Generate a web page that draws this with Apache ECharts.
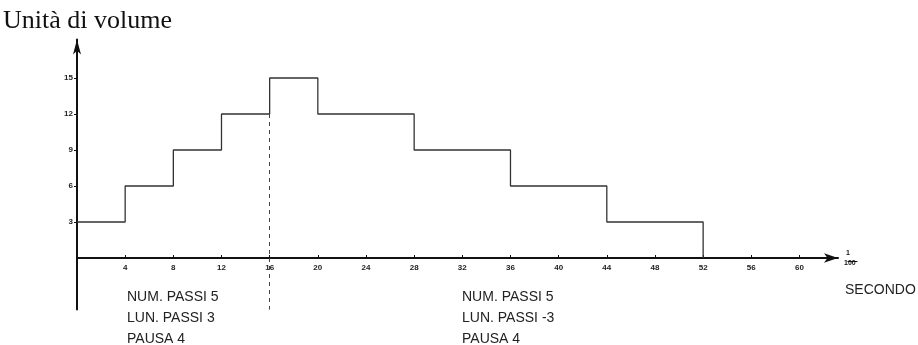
<!DOCTYPE html>
<html>
<head>
<meta charset="utf-8">
<script src="https://cdn.jsdelivr.net/npm/echarts@6/dist/echarts.min.js"></script>
<style>
html, body { margin: 0; padding: 0; background: #fff; }
#chart { width: 918px; height: 345px; }
</style>
</head>
<body>
<div id="chart"></div>
<script>
// step profile: time (1/100 s) -> volume units
var stepTimes = [0, 4, 8, 12, 16, 20, 28, 36, 44, 52];
var stepVolumes = [3, 6, 9, 12, 15, 12, 9, 6, 3, 0];

var xTicks = [4, 8, 12, 16, 20, 24, 28, 32, 36, 40, 44, 48, 52, 56, 60];
var yTicks = [3, 6, 9, 12, 15];

// dashed divider between rising and falling phase
var dividerX = 16;
var dividerY = [12, -4.3];

var yTitle = 'Unità di volume';
var xUnit = ['1', '100'];
var xTitle = 'SECONDO';
var noteUp = ['NUM. PASSI 5', 'LUN. PASSI 3', 'PAUSA 4'];
var noteDown = ['NUM. PASSI 5', 'LUN. PASSI -3', 'PAUSA 4'];

var stepData = stepTimes.map(function (t, i) { return [t, stepVolumes[i]]; });

var chart = echarts.init(document.getElementById('chart'));

var labelFont = {
    fontFamily: 'Liberation Sans',
    fontSize: 8,
    fontWeight: 'bold',
    color: '#222'
};

var yMin = -4.3;
var yUnit = 12; // px per volume unit

option = {
    backgroundColor: '#fff',
    animation: false,
    grid: {
        left: 77,
        top: 39.6,
        width: 761,
        height: (18.2 - yMin) * yUnit
    },
    xAxis: {
        type: 'value',
        min: 0,
        max: 63.2,
        position: 'bottom',
        offset: yMin * yUnit,
        splitLine: { show: false },
        axisLine: {
            onZero: false,
            symbol: ['none', 'arrow'],
            symbolSize: [7, 14],
            lineStyle: { color: '#111', width: 2 }
        },
        axisTick: {
            customValues: xTicks,
            length: 3,
            inside: true,
            lineStyle: { color: '#111', width: 1 }
        },
        axisLabel: Object.assign({
            customValues: xTicks,
            margin: 6
        }, labelFont)
    },
    yAxis: {
        type: 'value',
        min: yMin,
        max: 18.2,
        splitLine: { show: false },
        axisLine: {
            onZero: false,
            symbol: ['none', 'arrow'],
            symbolSize: [6, 15],
            lineStyle: { color: '#111', width: 2 }
        },
        axisTick: {
            customValues: yTicks,
            length: 3,
            lineStyle: { color: '#111', width: 1 }
        },
        axisLabel: Object.assign({
            customValues: yTicks,
            margin: 4
        }, labelFont)
    },
    series: [
        {
            type: 'line',
            step: 'end',
            symbol: 'none',
            data: stepData,
            lineStyle: { color: '#333', width: 1.3 },
            markLine: {
                silent: true,
                symbol: 'none',
                label: { show: false },
                lineStyle: { color: '#444', width: 1, type: [4, 4] },
                data: [[
                    { coord: [dividerX, dividerY[0]] },
                    { coord: [dividerX, dividerY[1]] }
                ]]
            }
        }
    ],
    graphic: [
        {
            type: 'text', left: 3, top: 8,
            style: { text: yTitle, font: '26px "Liberation Serif"', fill: '#111' }
        },
        {
            type: 'text', left: 846, top: 250,
            style: { text: xUnit[0], font: 'bold 7px "Liberation Sans"', fill: '#111' }
        },
        {
            type: 'line', left: 845, top: 259,
            shape: { x1: 0, y1: 0, x2: 10, y2: 0 },
            style: { stroke: '#111', lineWidth: 1 }
        },
        {
            type: 'text', left: 844, top: 260,
            style: { text: xUnit[1], font: 'bold 7px "Liberation Sans"', fill: '#111' }
        },
        {
            type: 'text', left: 845, top: 283,
            style: { text: xTitle, font: '14px "Liberation Sans"', fill: '#222' }
        },
        {
            type: 'text', left: 127, top: 287,
            style: { text: noteUp.join('\n'), font: '14px "Liberation Sans"', lineHeight: 21, fill: '#222' }
        },
        {
            type: 'text', left: 462, top: 287,
            style: { text: noteDown.join('\n'), font: '14px "Liberation Sans"', lineHeight: 21, fill: '#222' }
        }
    ]
};

chart.setOption(option);
</script>
</body>
</html>
